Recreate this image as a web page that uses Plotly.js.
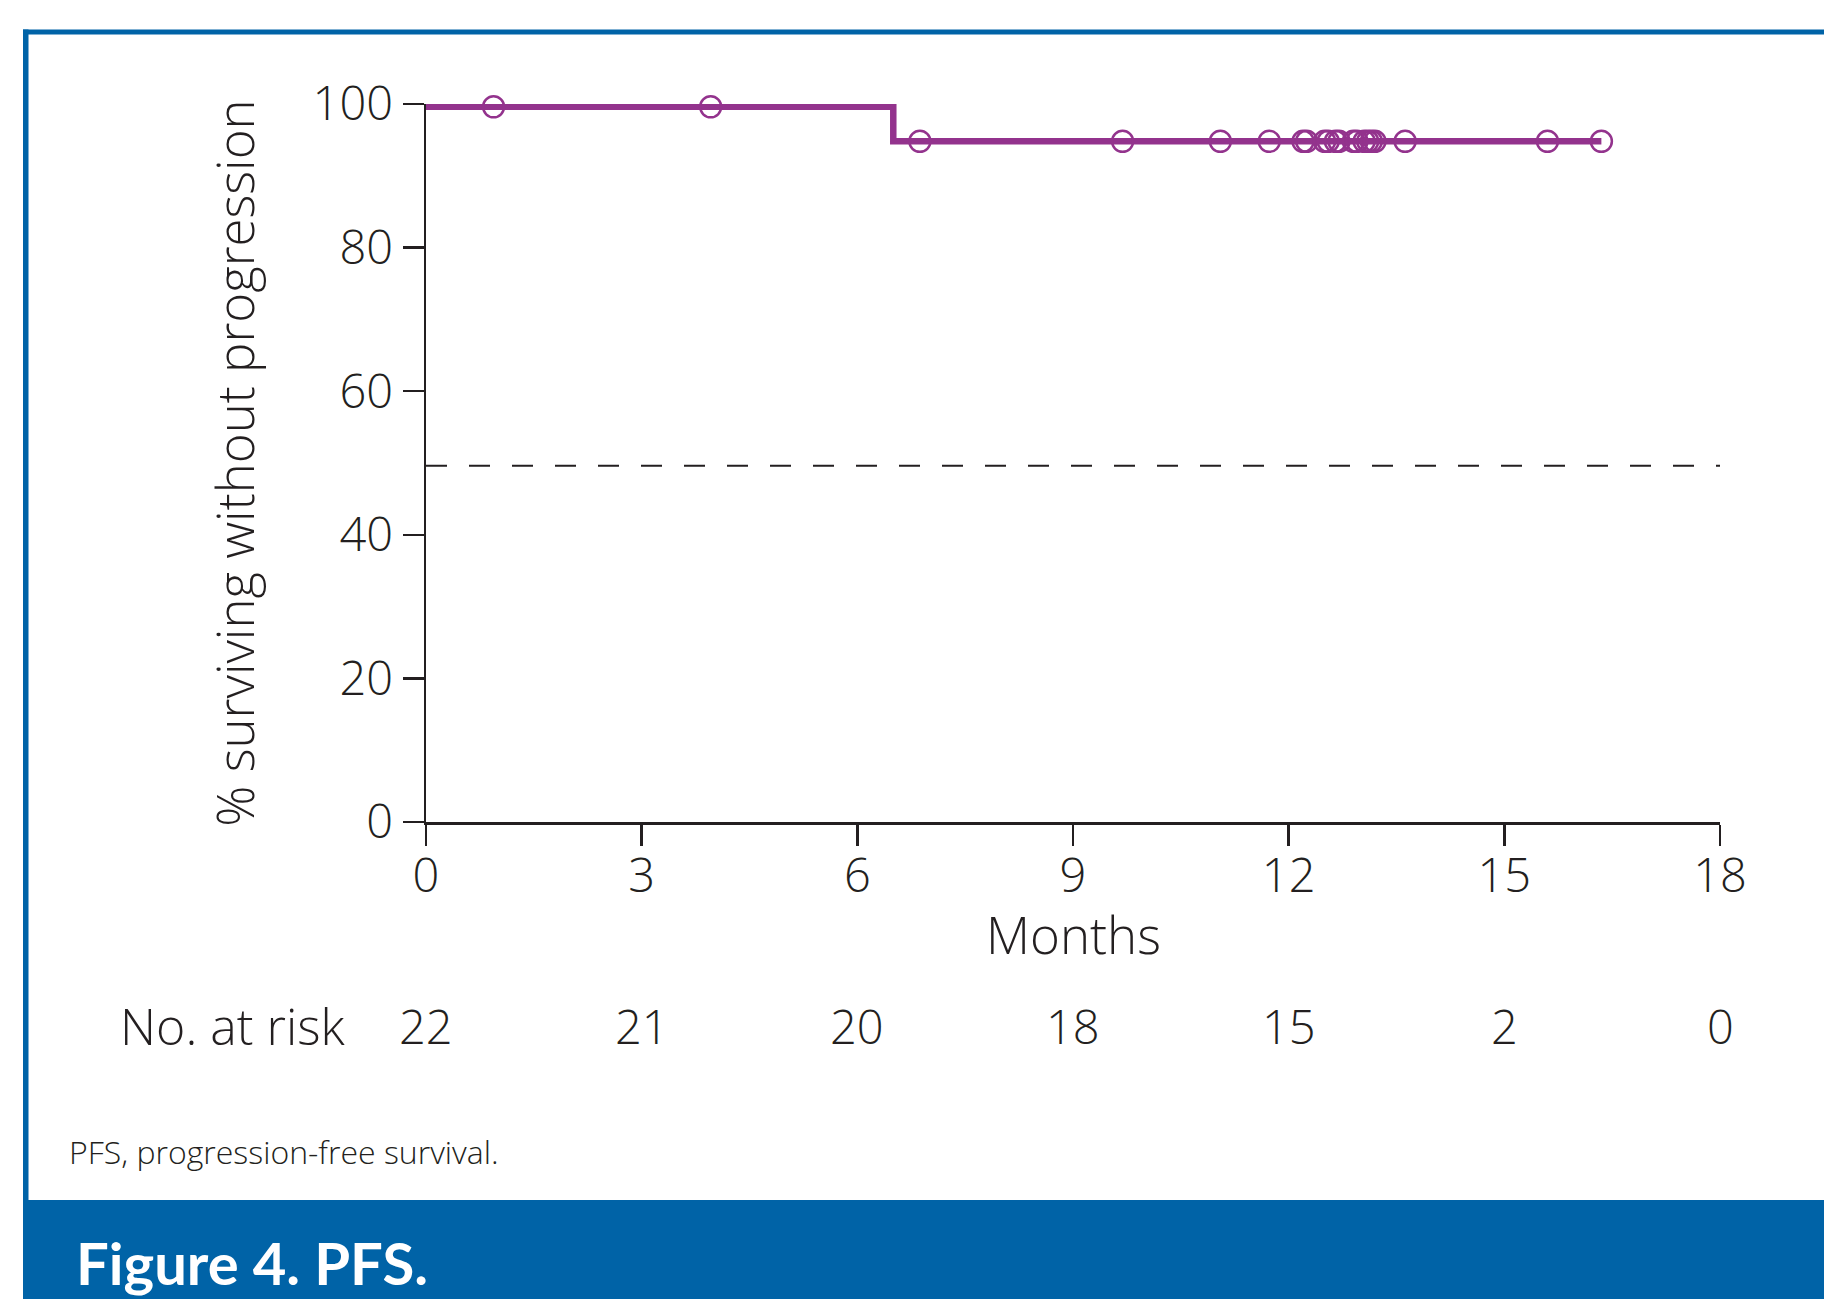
<!DOCTYPE html>
<html>
<head>
<meta charset="utf-8">
<script src="https://cdn.plot.ly/plotly-3.0.1.min.js"></script>
<style>
  html, body { margin: 0; padding: 0; background: #ffffff; }
  #chart { width: 1824px; height: 1299px; }
</style>
</head>
<body>
<div id="chart"></div>
<script>
// ---- Data ----
const stepTimes = [0, 6.5, 16.35];            // months: start, event, last follow-up
const stepSurvival = [99.6, 94.8, 94.8];       // % surviving without progression
const censorTimes = [0.94, 3.96, 6.87, 9.69, 11.05, 11.73, 12.20, 12.25, 12.50, 12.55,
                     12.65, 12.70, 12.90, 12.95, 13.05, 13.10, 13.15, 13.20, 13.62, 15.60, 16.35];
const censorSurvival = [99.6, 99.6, 94.8, 94.8, 94.8, 94.8, 94.8, 94.8, 94.8, 94.8,
                        94.8, 94.8, 94.8, 94.8, 94.8, 94.8, 94.8, 94.8, 94.8, 94.8, 94.8];
const medianLine = 49.6;
const xTicks = [0, 3, 6, 9, 12, 15, 18];
const yTicks = [0, 20, 40, 60, 80, 100];
const riskTimes = [0, 3, 6, 9, 12, 15, 18];
const atRisk = [22, 21, 20, 18, 15, 2, 0];
const xTitle = 'Months';
const yTitle = '% surviving without progression';
const riskLabel = 'No. at risk';
const footnote = 'PFS, progression-free survival.';
const figTitle = 'Figure 4. PFS.';

// ---- Layout geometry ----
const W = 1824, H = 1299;
const M = {l: 426, r: 104, t: 104, b: 477};
const PW = W - M.l - M.r, PH = H - M.t - M.b;
const px = x => (x - M.l) / PW;
const py = y => (H - M.b - y) / PH;

const INK = '#231f20';
const PURPLE = '#93338d';
const BLUE = '#0063a7';
const FONT = '"Open Sans", Lato, sans-serif';
const BOLD = 'Lato, "Open Sans", sans-serif';
const TXT = {family: FONT, size: 47, color: INK, weight: 300};

const traces = [
  {
    x: stepTimes, y: stepSurvival, type: 'scatter', mode: 'lines',
    line: {shape: 'hv', color: PURPLE, width: 6.5},
    hoverinfo: 'skip', showlegend: false
  },
  {
    x: censorTimes, y: censorSurvival, type: 'scatter', mode: 'markers',
    marker: {symbol: 'circle-open', size: 21, color: PURPLE, line: {color: PURPLE, width: 2.5}},
    cliponaxis: false, hoverinfo: 'skip', showlegend: false
  }
];

const annotations = [];
annotations.push({
  text: xTitle, xref: 'x', yref: 'paper', x: (xTicks[0] + xTicks[xTicks.length - 1]) / 2, y: py(934),
  xanchor: 'center', yanchor: 'middle', showarrow: false,
  font: {family: FONT, size: 51, color: INK, weight: 300}
});
annotations.push({
  text: riskLabel, xref: 'paper', yref: 'paper', x: px(118), y: py(1026),
  xanchor: 'left', yanchor: 'middle', showarrow: false,
  font: {family: FONT, size: 50, color: INK, weight: 300}
});
riskTimes.forEach((t, i) => annotations.push({
  text: String(atRisk[i]), xref: 'x', yref: 'paper', x: t, y: py(1026),
  xanchor: 'center', yanchor: 'middle', showarrow: false, font: TXT
}));
annotations.push({
  text: footnote, xref: 'paper', yref: 'paper', x: px(67), y: py(1151),
  xanchor: 'left', yanchor: 'middle', showarrow: false,
  font: {family: FONT, size: 32, color: INK, weight: 300}
});
annotations.push({
  text: '<b>' + figTitle + '</b>', xref: 'paper', yref: 'paper', x: px(74), y: py(1262),
  xanchor: 'left', yanchor: 'middle', showarrow: false,
  font: {family: BOLD, size: 58, color: '#ffffff'}
});

const shapes = [
  // median reference line
  {type: 'line', xref: 'x', yref: 'y', x0: xTicks[0], x1: xTicks[xTicks.length - 1],
   y0: medianLine, y1: medianLine, line: {color: INK, width: 2, dash: '21px,22px'}, layer: 'below'},
  // blue frame: top, left, footer
  {type: 'rect', xref: 'paper', yref: 'paper', x0: px(23), x1: px(W), y0: py(34.5), y1: py(29.5),
   fillcolor: BLUE, line: {width: 0}},
  {type: 'rect', xref: 'paper', yref: 'paper', x0: px(23), x1: px(28.5), y0: py(1200), y1: py(29.5),
   fillcolor: BLUE, line: {width: 0}},
  {type: 'rect', xref: 'paper', yref: 'paper', x0: px(23), x1: px(W), y0: py(H), y1: py(1200),
   fillcolor: BLUE, line: {width: 0}}
];

const axisCommon = {
  showline: true, linecolor: INK, linewidth: 2.5, mirror: false,
  ticks: 'outside', ticklen: 21, tickwidth: 2.5, tickcolor: INK,
  showgrid: false, zeroline: false, fixedrange: true,
  tickfont: TXT
};

const layout = {
  width: W, height: H,
  margin: {l: M.l, r: M.r, t: M.t, b: M.b, autoexpand: false},
  paper_bgcolor: '#ffffff', plot_bgcolor: '#ffffff',
  font: {family: FONT, color: INK},
  xaxis: Object.assign({}, axisCommon, {
    range: [0, 18], tickvals: xTicks, ticktext: xTicks.map(String),
    ticklabelstandoff: -10
  }),
  yaxis: Object.assign({}, axisCommon, {
    range: [0, 100], tickvals: yTicks, ticktext: yTicks.map(String),
    title: {text: yTitle, font: {family: FONT, size: 51, color: INK, weight: 300}, standoff: 42}
  }),
  annotations: annotations,
  shapes: shapes,
  showlegend: false
};

Plotly.newPlot('chart', traces, layout, {displayModeBar: false, staticPlot: true});
</script>
</body>
</html>
